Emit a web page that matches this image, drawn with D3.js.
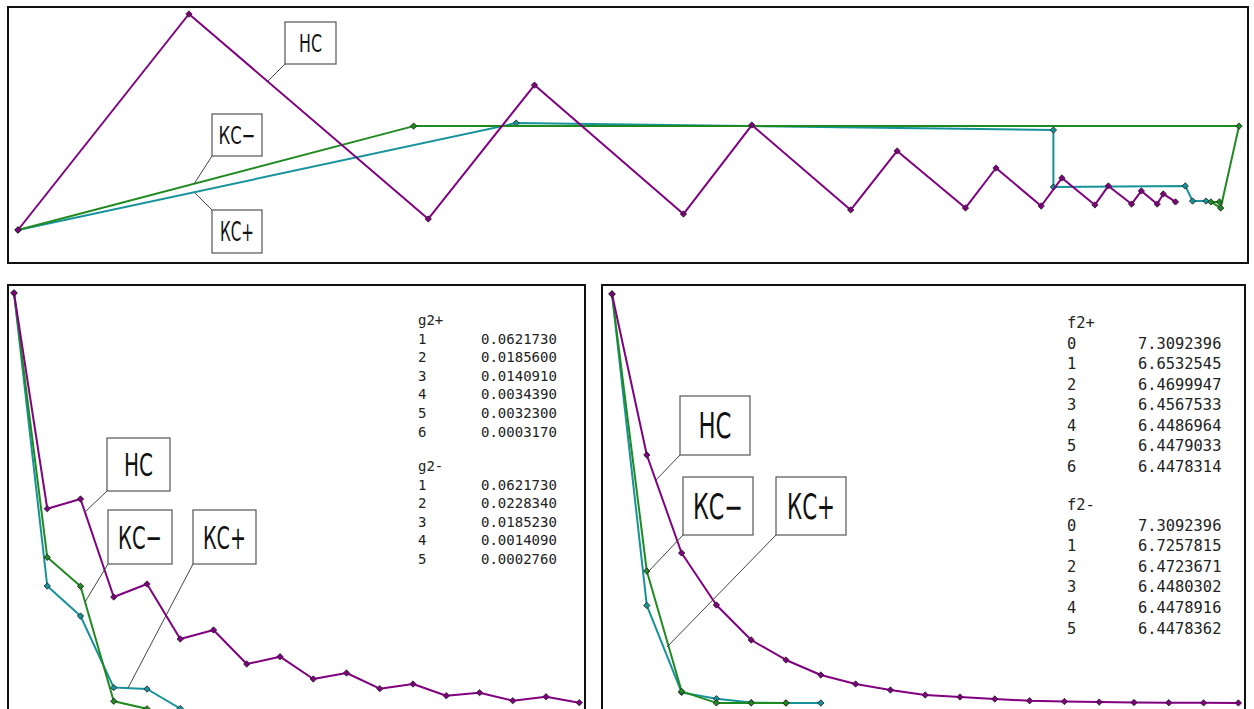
<!DOCTYPE html>
<html>
<head>
<meta charset="utf-8">
<script src="https://cdn.jsdelivr.net/npm/d3@7"></script>
<style>
  body { margin: 0; background: #fff; }
  svg { display: block; }
</style>
</head>
<body>
<div id="chart"></div>
<script>
// ---- data ----
// top panel: trajectory in (x1, x2), arbitrary plot units
const hcX1 = [0, 1.40, 3.36, 4.23, 5.45, 6.01, 6.82, 7.20, 7.76, 8.01, 8.38, 8.55, 8.82, 8.93, 9.12, 9.20, 9.33, 9.38, 9.48];
const hcX2 = [0, 1.00, 0.051, 0.671, 0.074, 0.486, 0.093, 0.366, 0.102, 0.287, 0.111, 0.241, 0.116, 0.204, 0.120, 0.181, 0.120, 0.167, 0.130];
const kcPlusX1 = [0, 4.08, 8.48, 8.48, 9.56, 9.62, 9.73];
const kcPlusX2 = [0, 0.495, 0.463, 0.199, 0.204, 0.134, 0.134];
const kcMinusX1 = [0, 3.24, 10.0, 9.85, 9.77, 9.84];
const kcMinusX2 = [0, 0.481, 0.481, 0.102, 0.130, 0.130];

// bottom-left: g2 per iteration (starting at 1)
const gHC = [0.062173, 0.03007, 0.03151, 0.01692, 0.01886, 0.01067, 0.01201, 0.00695, 0.00804,
             0.00472, 0.00561, 0.00328, 0.00397, 0.00223, 0.00268, 0.00149, 0.00208, 0.00119];
const gPlus = [0.0621730, 0.0185600, 0.0140910, 0.0034390, 0.0032300, 0.0003170];
const gMinus = [0.0621730, 0.0228340, 0.0185230, 0.0014090, 0.0002760];

// bottom-right: f2 per iteration (starting at 0)
const fHC = [7.3092, 6.9701, 6.7637, 6.6542, 6.5805, 6.5384, 6.5068, 6.4878, 6.4752, 6.4647,
             6.4604, 6.4562, 6.4525, 6.4510, 6.4497, 6.4489, 6.4484, 6.4481, 6.4479];
const fPlus = [7.3092396, 6.6532545, 6.4699947, 6.4567533, 6.4486964, 6.4479033, 6.4478314];
const fMinus = [7.3092396, 6.7257815, 6.4723671, 6.4480302, 6.4478916, 6.4478362];

// table text
const gPlusLabels = ["1", "2", "3", "4", "5", "6"];
const gPlusText = ["0.0621730", "0.0185600", "0.0140910", "0.0034390", "0.0032300", "0.0003170"];
const gMinusLabels = ["1", "2", "3", "4", "5"];
const gMinusText = ["0.0621730", "0.0228340", "0.0185230", "0.0014090", "0.0002760"];
const fPlusLabels = ["0", "1", "2", "3", "4", "5", "6"];
const fPlusText = ["7.3092396", "6.6532545", "6.4699947", "6.4567533", "6.4486964", "6.4479033", "6.4478314"];
const fMinusLabels = ["0", "1", "2", "3", "4", "5"];
const fMinusText = ["7.3092396", "6.7257815", "6.4723671", "6.4480302", "6.4478916", "6.4478362"];

// ---- styling ----
const colHC = "#800080";
const colPlus = "#16939a";
const colMinus = "#1f8a1f";

const svg = d3.select("#chart")
    .append("svg")
    .attr("width", 1254)
    .attr("height", 709);

// draws one polyline with diamond markers
function series(g, pts, color) {
    const line = d3.line().x(d => d[0]).y(d => d[1]);
    g.append("path")
        .datum(pts)
        .attr("d", line)
        .attr("fill", "none")
        .attr("stroke", color)
        .attr("stroke-width", 2)
        .attr("stroke-linejoin", "round");
    g.selectAll(null)
        .data(pts)
        .enter()
        .append("path")
        .attr("d", d3.symbol(d3.symbolSquare, 20))
        .attr("transform", d => "translate(" + d[0] + "," + d[1] + ") rotate(45)")
        .attr("fill", color)
        .attr("stroke", "#222")
        .attr("stroke-width", 0.8);
}

// callout box with a leader line (leader leaves from the box corner sx,sy)
function callout(g, text, x, y, w, h, sx, sy, lx, ly, tw) {
    g.append("line")
        .attr("x1", sx).attr("y1", sy)
        .attr("x2", lx).attr("y2", ly)
        .attr("stroke", "#444")
        .attr("stroke-width", 1);
    g.append("rect")
        .attr("x", x).attr("y", y)
        .attr("width", w).attr("height", h)
        .attr("fill", "#fff")
        .attr("stroke", "#555")
        .attr("stroke-width", 1.2);
    const fs = h * 0.6;
    g.append("text")
        .attr("x", x + w / 2)
        .attr("y", y + h / 2 + fs * 0.365)
        .attr("text-anchor", "middle")
        .attr("font-family", "DejaVu Sans Condensed, DejaVu Sans, sans-serif")
        .attr("font-size", fs)
        .attr("textLength", tw)
        .attr("lengthAdjust", "spacingAndGlyphs")
        .attr("fill", "#111")
        .text(text);
}

// small monospace value table
function table(g, x0, x1, y0, step, fs, title, labels, values) {
    const t = g.append("g")
        .attr("font-family", "DejaVu Sans Mono, monospace")
        .attr("font-size", fs)
        .attr("fill", "#222");
    t.append("text").attr("x", x0).attr("y", y0).text(title);
    labels.forEach((l, i) => {
        t.append("text").attr("x", x0).attr("y", y0 + (i + 1) * step).text(l);
        t.append("text").attr("x", x1).attr("y", y0 + (i + 1) * step).text(values[i]);
    });
}

// ---- top panel ----
const topPanel = svg.append("g");
topPanel.append("rect")
    .attr("x", 8).attr("y", 7)
    .attr("width", 1240).attr("height", 256)
    .attr("fill", "none")
    .attr("stroke", "#111")
    .attr("stroke-width", 2);

const xTop = d3.scaleLinear().domain([0, 10]).range([18, 1239]);
const yTop = d3.scaleLinear().domain([0, 1]).range([230, 14]);
const toTop = (xs, ys) => xs.map((v, i) => [xTop(v), yTop(ys[i])]);

series(topPanel, toTop(kcPlusX1, kcPlusX2), colPlus);
series(topPanel, toTop(kcMinusX1, kcMinusX2), colMinus);
series(topPanel, toTop(hcX1, hcX2), colHC);

callout(topPanel, "НС", 285, 22, 51, 42, 285, 64, 268, 81, 23);
callout(topPanel, "КС−", 212, 114, 50, 42, 212, 156, 194, 184, 37);
callout(topPanel, "КС+", 212, 210, 50, 43, 212, 210, 195, 193, 34);

// ---- bottom-left panel: g2 ----
const bl = svg.append("g");
bl.append("rect")
    .attr("x", 8).attr("y", 285)
    .attr("width", 577).attr("height", 440)
    .attr("fill", "none")
    .attr("stroke", "#111")
    .attr("stroke-width", 2);

const xG = d3.scaleLinear().domain([1, 18]).range([14, 579.3]);
const yG = d3.scaleLinear().domain([0, 0.062173]).range([710.7, 293]);
const toG = arr => arr.map((v, i) => [xG(i + 1), yG(v)]);

series(bl, toG(gPlus), colPlus);
series(bl, toG(gMinus), colMinus);
series(bl, toG(gHC), colHC);

callout(bl, "НС", 107, 438, 63, 53, 107, 491, 85, 512, 29);
callout(bl, "КС−", 108, 510, 64, 54, 108, 564, 85, 602, 44);
callout(bl, "КС+", 193, 510, 63, 54, 193, 564, 128, 688, 43);

table(bl, 418, 481, 325, 18.6, 14, "g2+", gPlusLabels, gPlusText);
table(bl, 418, 481, 471, 18.6, 14, "g2-", gMinusLabels, gMinusText);

// ---- bottom-right panel: f2 ----
const br = svg.append("g");
br.append("rect")
    .attr("x", 602).attr("y", 285)
    .attr("width", 643).attr("height", 440)
    .attr("fill", "none")
    .attr("stroke", "#111")
    .attr("stroke-width", 2);

const xF = d3.scaleLinear().domain([0, 18]).range([612, 1238.4]);
const yF = d3.scaleLinear().domain([6.4478, 7.3092396]).range([703, 294]);
const toF = arr => arr.map((v, i) => [xF(i), yF(v)]);

series(br, toF(fPlus), colPlus);
series(br, toF(fMinus), colMinus);
series(br, toF(fHC), colHC);

callout(br, "НС", 680, 396, 70, 59, 680, 455, 656, 480, 33);
callout(br, "КС−", 683, 477, 70, 58, 683, 535, 648, 572, 50);
callout(br, "КС+", 776, 477, 70, 58, 776, 535, 667, 647, 48);

table(br, 1067, 1138, 328, 20.55, 15.4, "f2+", fPlusLabels, fPlusText);
table(br, 1067, 1138, 510, 20.6, 15.4, "f2-", fMinusLabels, fMinusText);
</script>
</body>
</html>
